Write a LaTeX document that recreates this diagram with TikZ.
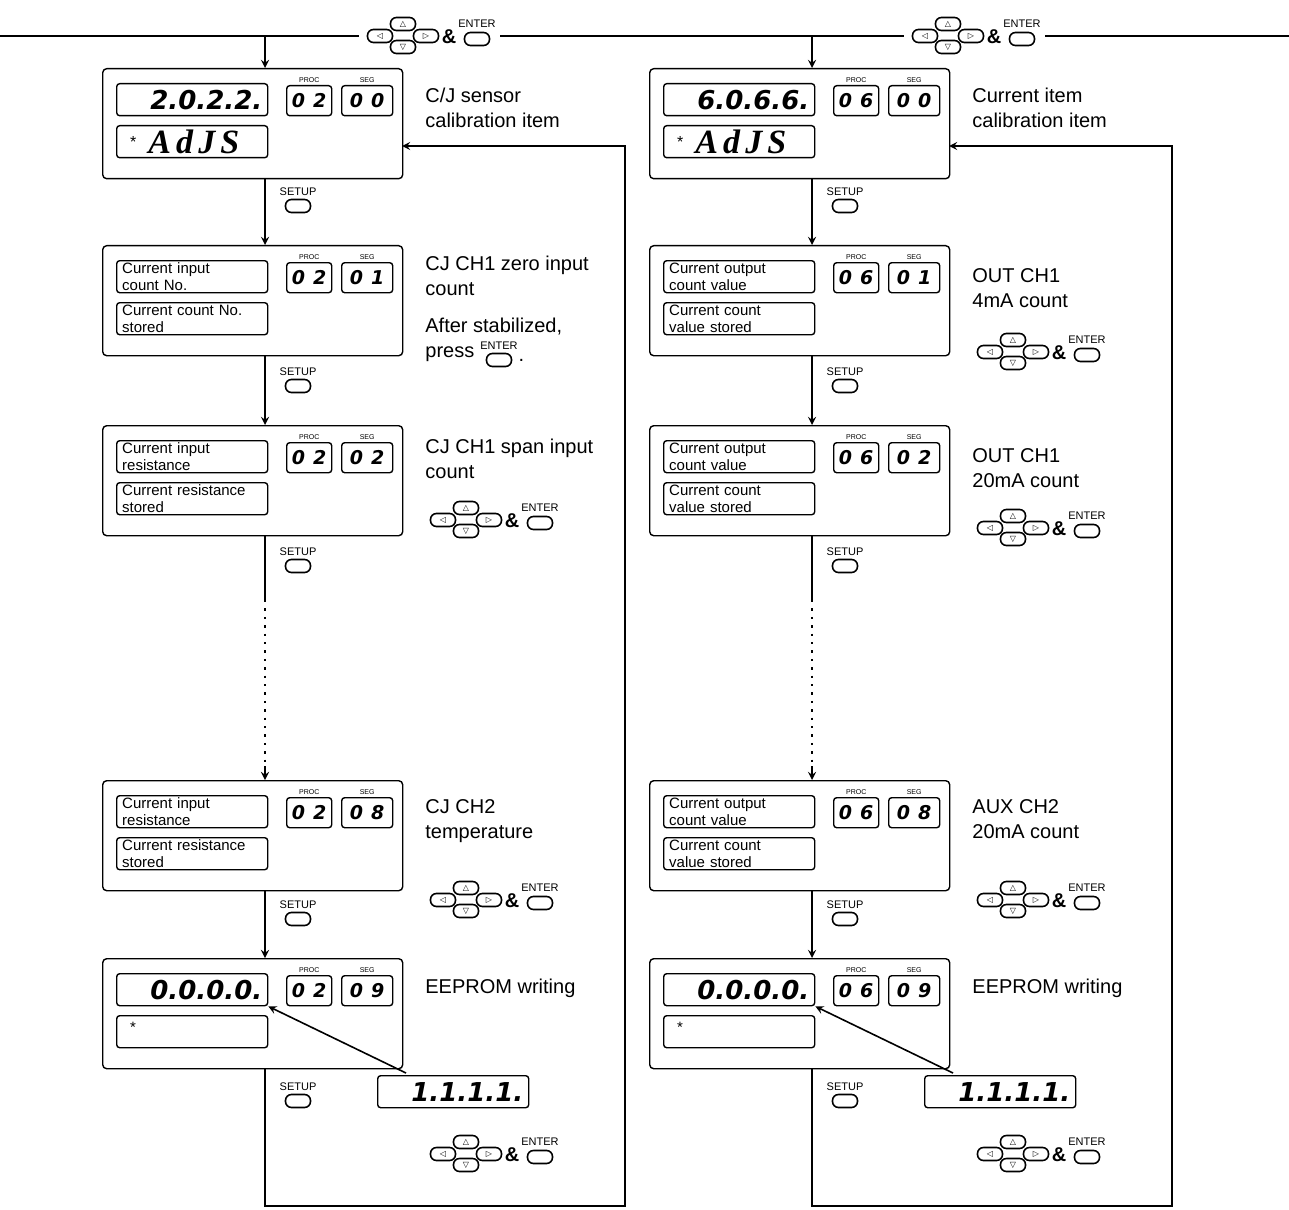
\documentclass[tikz,border=0pt]{standalone}
\usepackage{fontspec}
\setmainfont{Liberation Sans}
\newfontfamily\digf{DejaVu Sans}
\newfontfamily\symf{DejaVu Sans}
\newfontfamily\serf[LetterSpace=15]{Liberation Serif}
\usetikzlibrary{positioning,calc}

\newcommand{\bigdig}{\digf\bfseries\itshape\fontsize{13}{13}\selectfont}
\newcommand{\adjs}{\hspace{4pt}\raisebox{3pt}{\fontsize{8}{8}\selectfont *}\hspace{6pt}{\serf\bfseries\itshape\fontsize{17}{17}\selectfont AdJS}}

% one instrument panel: name, top left, PROC, SEG, upper display, lower display
\newcommand{\panel}[6]{%
  \node[panelbox] (#1) at (#2) {};
  \node[lcd] (#1-up) at ($(#1.north west)+(14,15)$) {#5};
  \node[lcd] (#1-lo) at ($(#1.north west)+(14,57)$) {#6};
  \node[segbox] (#1-proc) at ($(#1.north west)+(184,17)$) {#3};
  \node[segbox, minimum width=25.5pt] (#1-seg) at ($(#1.north west)+(239,17)$) {#4};
  \node[tag, above=1pt of #1-proc] (#1-pl) {PROC};
  \node[tag, above=1pt of #1-seg] (#1-sl) {SEG};
}

\tikzset{
  arrowkeys/.pic={
    \node[key] (-l) at (0,0) {◁};
    \node[key] (-u) at (23,-12) {△};
    \node[key] (-d) at (23,11) {▽};
    \node[key] (-r) at (46,0) {▷};
    \node[amp] (-a) at (69,1) {\&};
    \node[key] (-e) at (97,3) {};
    \node[keylbl] (-t) at (97,-12) {ENTER};
  }
}

\begin{document}
\begin{tikzpicture}[x=0.5pt, y=-0.5pt]
\tikzstyle{panelbox} = [rectangle, draw, line width=0.7pt, rounded corners=2pt, minimum width=150pt, minimum height=55pt, inner sep=0pt, anchor=north west]
\tikzstyle{lcd} = [rectangle, draw, line width=0.7pt, rounded corners=1.5pt, minimum width=75.5pt, minimum height=16pt, text width=70pt, inner xsep=2.75pt, inner ysep=0.5pt, align=left, anchor=north west, font=\fontsize{7.5}{8.5}\selectfont]
\tikzstyle{segbox} = [rectangle, draw, line width=0.7pt, rounded corners=1.5pt, minimum width=22.5pt, minimum height=15pt, inner sep=0pt, anchor=north west, font=\digf\bfseries\itshape\fontsize{9.5}{9.5}\selectfont]
\tikzstyle{tag} = [inner sep=0pt, font=\fontsize{3.5}{4}\selectfont]
\tikzstyle{note} = [inner sep=0pt, align=left, anchor=north west, font=\fontsize{10}{12.5}\selectfont]
\tikzstyle{key} = [rectangle, draw, line width=0.8pt, rounded corners=3pt, minimum width=12.5pt, minimum height=6.5pt, inner sep=0pt, font=\symf\fontsize{4}{4}\selectfont]
\tikzstyle{keylbl} = [inner sep=0pt, font=\fontsize{5.5}{5.5}\selectfont]
\tikzstyle{amp} = [inner sep=0pt, font=\bfseries\fontsize{10}{10}\selectfont]
\tikzstyle{wire} = [line width=0.8pt]
\tikzstyle{arrow} = [line width=0.8pt,->,>=stealth]
\useasboundingbox (0,0) rectangle (1289,1209);
%
\coordinate (tl) at (0,36);
\coordinate (tr) at (1289,36);
\coordinate (lx) at (265,36);
\coordinate (rx) at (812,36);
\pic (ktl) at (380,36) {arrowkeys};
\pic (ktr) at (925,36) {arrowkeys};
\draw [wire, shorten >=4pt] (tl) -- (ktl-l.west);
\draw [wire, shorten <=5pt, shorten >=4pt] (ktl-e.east |- tl) -- (ktr-l.west);
\draw [wire, shorten <=5pt] (ktr-e.east |- tl) -- (tr);
%
% left column
\panel{L1}{102,68}{0\hspace{4pt}2}{0\hspace{4pt}0}{\hfill\bigdig 2.0.2.2.}{\adjs}
\panel{L2}{102,245}{0\hspace{4pt}2}{0\hspace{4pt}1}{Current input\\count No.}{Current count No.\\stored}
\panel{L3}{102,425}{0\hspace{4pt}2}{0\hspace{4pt}2}{Current input\\resistance}{Current resistance\\stored}
\panel{L4}{102,780}{0\hspace{4pt}2}{0\hspace{4pt}8}{Current input\\resistance}{Current resistance\\stored}
\panel{L5}{102,958}{0\hspace{4pt}2}{0\hspace{4pt}9}{\hfill\bigdig 0.0.0.0.}{\hspace{4pt}\raisebox{4pt}{*}}
\node[lcd] (L5b) at (377,1075) {\hfill\bigdig 1.1.1.1.};
%
\node[note] (L1t) at (425,88) {C/J sensor\\calibration item};
\node[note] (L2t) at (425,256) {CJ CH1 zero input\\count};
\node[note] (L2c) at (425,318) {After stabilized,\\press};
\node[key] (L2e) at (499,360) {};
\node[keylbl] (L2k) at (499,346) {ENTER};
\node[note, right=3pt of L2e] (L2d) {.};
\node[note] (L3t) at (425,439) {CJ CH1 span input\\count};
\node[note] (L4t) at (425,799) {CJ CH2\\temperature};
\node[note] (L5t) at (425,979) {EEPROM writing};
\pic (kL3) at (443,520) {arrowkeys};
\pic (kL4) at (443,900) {arrowkeys};
\pic (kL5) at (443,1154) {arrowkeys};
%
\node[key, label={[keylbl, label distance=1.5pt]above:SETUP}] (L1s) at (298,206) {};
\node[key, label={[keylbl, label distance=1.5pt]above:SETUP}] (L2s) at (298,386) {};
\node[key, label={[keylbl, label distance=1.5pt]above:SETUP}] (L3s) at (298,566) {};
\node[key, label={[keylbl, label distance=1.5pt]above:SETUP}] (L4s) at (298,919) {};
\node[key, label={[keylbl, label distance=1.5pt]above:SETUP}] (L5s) at (298,1101) {};
%
\coordinate (ldotA) at (265,600);
\coordinate (ldotB) at (265,766);
\coordinate (lret) at (625,1206);
\coordinate (L1in) at (402,146);
\draw [arrow] (lx) -- (L1.north -| lx);
\draw [arrow] (L1.south -| lx) -- (L2.north -| lx);
\draw [arrow] (L2.south -| lx) -- (L3.north -| lx);
\draw [wire] (L3.south -| lx) -- (ldotA);
\draw [line width=1.2pt, dash pattern=on 1.2pt off 3pt] (ldotA) -- (ldotB);
\draw [arrow] (ldotB) -- (L4.north -| lx);
\draw [arrow] (L4.south -| lx) -- (L5.north -| lx);
\draw [arrow] (L5.south -| lx) |- (lret) |- (L1in);
\draw [arrow] ($(L5b.north west)+(29,-2)$) -- (L5-up.south east);
%
% right column
\panel{R1}{649,68}{0\hspace{4pt}6}{0\hspace{4pt}0}{\hfill\bigdig 6.0.6.6.}{\adjs}
\panel{R2}{649,245}{0\hspace{4pt}6}{0\hspace{4pt}1}{Current output\\count value}{Current count\\value stored}
\panel{R3}{649,425}{0\hspace{4pt}6}{0\hspace{4pt}2}{Current output\\count value}{Current count\\value stored}
\panel{R4}{649,780}{0\hspace{4pt}6}{0\hspace{4pt}8}{Current output\\count value}{Current count\\value stored}
\panel{R5}{649,958}{0\hspace{4pt}6}{0\hspace{4pt}9}{\hfill\bigdig 0.0.0.0.}{\hspace{4pt}\raisebox{4pt}{*}}
\node[lcd] (R5b) at (924,1075) {\hfill\bigdig 1.1.1.1.};
%
\node[note] (R1t) at (972,88) {Current item\\calibration item};
\node[note] (R2t) at (972,268) {OUT CH1\\4mA count};
\node[note] (R3t) at (972,448) {OUT CH1\\20mA count};
\node[note] (R4t) at (972,799) {AUX CH2\\20mA count};
\node[note] (R5t) at (972,979) {EEPROM writing};
\pic (kR2) at (990,352) {arrowkeys};
\pic (kR3) at (990,528) {arrowkeys};
\pic (kR4) at (990,900) {arrowkeys};
\pic (kR5) at (990,1154) {arrowkeys};
%
\node[key, label={[keylbl, label distance=1.5pt]above:SETUP}] (R1s) at (845,206) {};
\node[key, label={[keylbl, label distance=1.5pt]above:SETUP}] (R2s) at (845,386) {};
\node[key, label={[keylbl, label distance=1.5pt]above:SETUP}] (R3s) at (845,566) {};
\node[key, label={[keylbl, label distance=1.5pt]above:SETUP}] (R4s) at (845,919) {};
\node[key, label={[keylbl, label distance=1.5pt]above:SETUP}] (R5s) at (845,1101) {};
%
\coordinate (rdotA) at (812,600);
\coordinate (rdotB) at (812,766);
\coordinate (rret) at (1172,1206);
\coordinate (R1in) at (949,146);
\draw [arrow] (rx) -- (R1.north -| rx);
\draw [arrow] (R1.south -| rx) -- (R2.north -| rx);
\draw [arrow] (R2.south -| rx) -- (R3.north -| rx);
\draw [wire] (R3.south -| rx) -- (rdotA);
\draw [line width=1.2pt, dash pattern=on 1.2pt off 3pt] (rdotA) -- (rdotB);
\draw [arrow] (rdotB) -- (R4.north -| rx);
\draw [arrow] (R4.south -| rx) -- (R5.north -| rx);
\draw [arrow] (R5.south -| rx) |- (rret) |- (R1in);
\draw [arrow] ($(R5b.north west)+(29,-2)$) -- (R5-up.south east);
\end{tikzpicture}
\end{document}
